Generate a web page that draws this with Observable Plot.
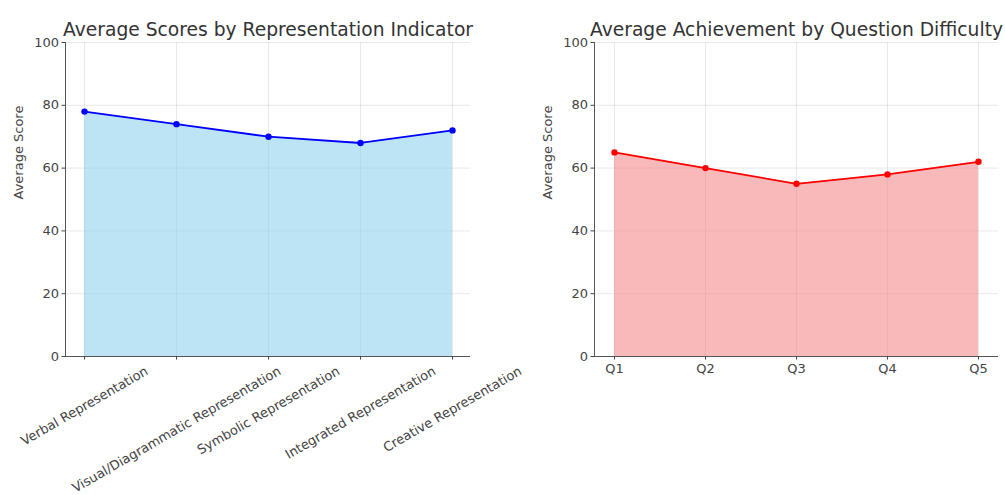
<!DOCTYPE html>
<html><head><meta charset="utf-8">
<script src="https://cdn.jsdelivr.net/npm/d3@7"></script>
<script src="https://cdn.jsdelivr.net/npm/@observablehq/plot@0.6"></script>
<style>
body{margin:0;background:#fff;}
#wrap{display:flex;width:1005px;height:495px;}
#wrap svg{display:block;overflow:visible;}
</style></head><body><div id="wrap"></div>
<script>
// ---- data ----
const indicators = ["Verbal Representation", "Visual/Diagrammatic Representation", "Symbolic Representation", "Integrated Representation", "Creative Representation"];
const indicatorScores = [78, 74, 70, 68, 72];
const questions = ["Q1", "Q2", "Q3", "Q4", "Q5"];
const questionScores = [65, 60, 55, 58, 62];
const yTicks = [0, 20, 40, 60, 80, 100];
const leftTitle = "Average Scores by Representation Indicator";
const rightTitle = "Average Achievement by Question Difficulty";
const yLabel = "Average Score";

const FONT = "DejaVu Sans";
const ctx = document.createElement("canvas").getContext("2d");
ctx.font = `13px "${FONT}"`;
function labelOffset(s) {
  const L = ctx.measureText(s).width;
  const h = 13 * 1.17;
  return 7 + (L * 0.5 + h * 0.866) / 2;
}

function panel({cats, vals, width, marginLeft, marginRight, fill, fillOpacity, stroke, title, rotated}) {
  const data = cats.map((c, i) => ({cat: c, score: vals[i]}));
  const gridStyle = {stroke: "#b0b0b0", strokeOpacity: 0.35, strokeWidth: 0.8};
  const marks = [
    Plot.gridY(yTicks, gridStyle),
    Plot.gridX(cats, gridStyle),
    Plot.areaY(data, {x: "cat", y: "score", fill, fillOpacity}),
    Plot.lineY(data, {x: "cat", y: "score", stroke, strokeWidth: 1.8}),
    Plot.dot(data, {x: "cat", y: "score", fill: stroke, r: 3.2}),
    Plot.ruleY([0], {stroke: "#555", strokeWidth: 1}),
    Plot.frame({anchor: "left", stroke: "#555", strokeWidth: 1}),
    Plot.axisY(yTicks, {tickSize: 3.5, tickPadding: 3, fontSize: 13, color: "#444", label: null}),
    Plot.text([title], {text: d => d, frameAnchor: "top", lineAnchor: "bottom", dy: -7, fontSize: 18.7, fill: "#333"}),
    Plot.text([yLabel], {text: d => d, frameAnchor: "left", rotate: -90, dx: -47, fontSize: 13, fill: "#444"})
  ];
  if (rotated) {
    marks.push(Plot.axisX({tickSize: 3.5, tickFormat: () => "", color: "#444", label: null}));
    for (const c of cats) {
      marks.push(Plot.text([c], {x: d => d, text: d => d, frameAnchor: "bottom", rotate: -30, textAnchor: "middle", lineAnchor: "middle", dy: labelOffset(c), fontSize: 13, fill: "#444"}));
    }
  } else {
    marks.push(Plot.axisX({tickSize: 3.5, tickPadding: 3.5, fontSize: 13, color: "#444", label: null}));
  }
  return Plot.plot({
    width, height: 495,
    marginTop: 42, marginBottom: 139, marginLeft, marginRight,
    x: {type: "point", domain: cats, padding: 0.2},
    y: {domain: [0, 100]},
    style: {fontFamily: FONT, background: "transparent", overflow: "visible"},
    marks
  });
}

const wrap = document.getElementById("wrap");
wrap.append(panel({cats: indicators, vals: indicatorScores, width: 502, marginLeft: 65, marginRight: 32, fill: "skyblue", fillOpacity: 0.55, stroke: "blue", title: leftTitle, rotated: true}));
wrap.append(panel({cats: questions, vals: questionScores, width: 503, marginLeft: 92, marginRight: 7, fill: "lightcoral", fillOpacity: 0.55, stroke: "red", title: rightTitle, rotated: false}));
</script></body></html>
